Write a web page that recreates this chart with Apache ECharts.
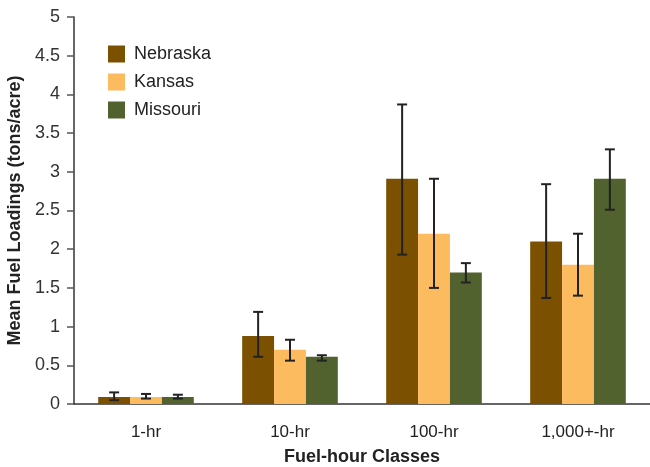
<!DOCTYPE html>
<html>
<head>
<meta charset="utf-8">
<script src="https://cdn.jsdelivr.net/npm/echarts@6/dist/echarts.min.js"></script>
<style>
  html, body { margin: 0; padding: 0; background: #fff; }
  #chart { width: 650px; height: 467px; }
</style>
</head>
<body>
<div id="chart"></div>
<script>
// Fuel-hour classes on the category axis
const categories = ['1-hr', '10-hr', '100-hr', '1,000+-hr'];
const states = ['Nebraska', 'Kansas', 'Missouri'];
const colors = ['#7b5000', '#fdbb5f', '#51622e'];

// Mean fuel loadings (tons/acre)
const nebraska = [0.09, 0.88, 2.91, 2.10];
const kansas   = [0.09, 0.70, 2.20, 1.80];
const missouri = [0.09, 0.61, 1.70, 2.91];

// Error bar limits [low, high]
const nebraskaErr = [[0.05, 0.15], [0.61, 1.19], [1.93, 3.87], [1.37, 2.84]];
const kansasErr   = [[0.07, 0.13], [0.56, 0.83], [1.50, 2.91], [1.40, 2.20]];
const missouriErr = [[0.07, 0.12], [0.56, 0.63], [1.57, 1.82], [2.51, 3.29]];

const yTicks = { min: 0, max: 5, interval: 0.5 };

const means = [nebraska, kansas, missouri];
const errs = [nebraskaErr, kansasErr, missouriErr];
const catGap = 0.336;

const fontFamily = '"Liberation Sans", Arial, sans-serif';

function errorSeries(idx) {
  return {
    type: 'custom',
    name: states[idx] + ' error',
    z: 10,
    silent: true,
    data: errs[idx].map((e, i) => [i, e[0], e[1]]),
    renderItem: function (params, api) {
      const c = api.value(0);
      const lo = api.coord([c, api.value(1)]);
      const hi = api.coord([c, api.value(2)]);
      const band = api.size([1, 0])[0];
      const bw = band * (1 - catGap) / 3;
      const x = lo[0] + (idx - 1) * bw;
      const half = 5;
      const style = { stroke: '#222', lineWidth: 2 };
      return {
        type: 'group',
        children: [
          { type: 'line', shape: { x1: x, y1: lo[1], x2: x, y2: hi[1] }, style: style },
          { type: 'line', shape: { x1: x - half, y1: lo[1], x2: x + half, y2: lo[1] }, style: style },
          { type: 'line', shape: { x1: x - half, y1: hi[1], x2: x + half, y2: hi[1] }, style: style }
        ]
      };
    }
  };
}

const chart = echarts.init(document.getElementById('chart'), null, { renderer: 'canvas' });

const series = states.map((s, i) => ({
  type: 'bar',
  name: s,
  data: means[i],
  barGap: '0%',
  barCategoryGap: (catGap * 100) + '%',
  itemStyle: { color: colors[i] }
})).concat(states.map((s, i) => errorSeries(i)));

chart.setOption({
  animation: false,
  backgroundColor: '#fff',
  textStyle: { fontFamily: fontFamily },
  legend: {
    data: states,
    orient: 'vertical',
    left: 103,
    top: 40,
    itemWidth: 17,
    itemHeight: 17,
    itemGap: 10,
    icon: 'rect',
    textStyle: { fontSize: 18, color: '#222', fontFamily: fontFamily, padding: [0, 0, 0, 4] }
  },
  grid: { left: 74, right: 0, top: 17, bottom: 63, containLabel: false, outerBoundsMode: 'none' },
  xAxis: {
    type: 'category',
    data: categories,
    name: 'Fuel-hour Classes',
    nameLocation: 'middle',
    nameGap: 44,
    nameTextStyle: { fontSize: 18, fontWeight: 'bold', color: '#222', fontFamily: fontFamily },
    axisLine: { lineStyle: { color: '#333', width: 1.5 } },
    axisTick: { alignWithLabel: false, length: 8, lineStyle: { color: '#555', width: 1.5 } },
    axisLabel: { fontSize: 17, color: '#222', margin: 20, fontFamily: fontFamily }
  },
  yAxis: {
    type: 'value',
    min: yTicks.min,
    max: yTicks.max,
    interval: yTicks.interval,
    name: 'Mean Fuel Loadings (tons/acre)',
    nameLocation: 'middle',
    nameGap: 45,
    nameTextStyle: { fontSize: 18, fontWeight: 'bold', color: '#222', fontFamily: fontFamily },
    axisLine: { show: true, lineStyle: { color: '#333', width: 1.5 } },
    axisTick: { show: true, length: 7, lineStyle: { color: '#555', width: 1.5 } },
    splitLine: { show: false },
    axisLabel: { fontSize: 18, color: '#333', margin: 14, fontFamily: fontFamily }
  },
  series: series
});
</script>
</body>
</html>
